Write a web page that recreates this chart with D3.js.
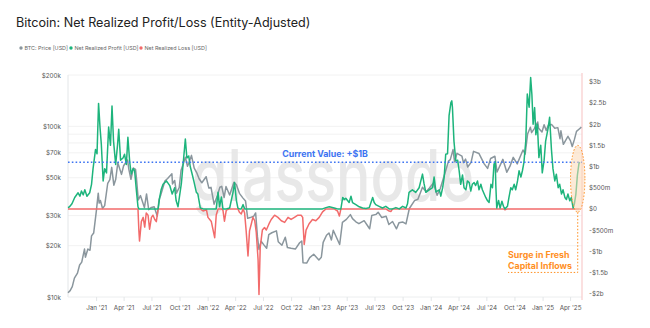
<!DOCTYPE html>
<html><head><meta charset="utf-8">
<script src="https://cdn.jsdelivr.net/npm/d3@7"></script>
<style>
html,body{margin:0;padding:0;background:#fff;}
svg{display:block;font-family:Inter,"Noto Sans",sans-serif;}
</style></head>
<body><svg id="c" width="650" height="328"></svg>
<script>
// ---------------- DATA ----------------
const priceDates = ["2020-10-01","2020-10-08","2020-10-15","2020-10-22","2020-11-01","2020-11-08","2020-11-15","2020-11-24","2020-11-27","2020-12-05","2020-12-12","2020-12-17","2020-12-24","2021-01-02","2021-01-08","2021-01-11","2021-01-15","2021-01-22","2021-01-29","2021-02-08","2021-02-15","2021-02-21","2021-02-28","2021-03-06","2021-03-13","2021-03-25","2021-04-01","2021-04-14","2021-04-18","2021-04-25","2021-05-03","2021-05-10","2021-05-13","2021-05-19","2021-05-26","2021-06-01","2021-06-08","2021-06-15","2021-06-22","2021-07-01","2021-07-10","2021-07-20","2021-07-26","2021-08-01","2021-08-14","2021-08-23","2021-09-06","2021-09-08","2021-09-15","2021-09-21","2021-09-30","2021-10-06","2021-10-15","2021-10-20","2021-10-27","2021-11-01","2021-11-09","2021-11-18","2021-11-26","2021-12-04","2021-12-13","2021-12-27","2022-01-05","2022-01-12","2022-01-22","2022-01-31","2022-02-10","2022-02-16","2022-02-24","2022-03-02","2022-03-14","2022-03-28","2022-04-05","2022-04-15","2022-04-26","2022-05-05","2022-05-12","2022-05-20","2022-06-01","2022-06-07","2022-06-13","2022-06-18","2022-06-25","2022-07-04","2022-07-13","2022-07-20","2022-07-30","2022-08-14","2022-08-20","2022-09-01","2022-09-12","2022-09-19","2022-10-01","2022-10-15","2022-10-29","2022-11-05","2022-11-09","2022-11-21","2022-12-01","2022-12-14","2022-12-31","2023-01-08","2023-01-14","2023-01-25","2023-02-02","2023-02-10","2023-02-16","2023-03-09","2023-03-18","2023-03-31","2023-04-13","2023-04-20","2023-05-01","2023-05-11","2023-05-28","2023-06-10","2023-06-15","2023-06-22","2023-07-06","2023-07-13","2023-07-25","2023-08-08","2023-08-17","2023-08-29","2023-09-11","2023-09-19","2023-10-02","2023-10-12","2023-10-23","2023-11-09","2023-11-20","2023-12-05","2023-12-17","2023-12-27","2024-01-10","2024-01-22","2024-02-01","2024-02-15","2024-02-28","2024-03-05","2024-03-14","2024-03-19","2024-03-27","2024-04-12","2024-04-17","2024-04-24","2024-05-01","2024-05-12","2024-05-20","2024-06-07","2024-06-24","2024-07-05","2024-07-15","2024-07-29","2024-08-05","2024-08-24","2024-09-06","2024-09-16","2024-09-27","2024-10-10","2024-10-21","2024-10-29","2024-11-05","2024-11-13","2024-11-22","2024-11-26","2024-12-05","2024-12-16","2024-12-19","2024-12-30","2025-01-06","2025-01-13","2025-01-20","2025-01-31","2025-02-10","2025-02-20","2025-02-27","2025-03-02","2025-03-10","2025-03-25","2025-04-02","2025-04-08","2025-04-15","2025-04-22","2025-05-01","2025-05-08"];
const priceValues = [10600,10900,11500,12900,13800,15400,16000,19100,17100,19100,18800,22800,23700,32200,40600,35500,36800,33000,34300,46400,48700,57500,45200,48800,61200,52300,58800,63500,56200,49000,57000,56000,49700,37000,39300,36500,33400,40200,32500,33500,33800,29800,37300,39800,47800,49500,52700,46000,48200,40600,43800,55300,61600,66000,58400,61300,67600,56900,53600,49300,46700,50700,43500,43900,35000,38500,44000,44500,38300,44400,39600,47100,45500,40500,38100,36500,28900,29200,29800,31100,22500,19000,21200,20200,19300,23200,23800,24400,21100,20100,22400,19500,19300,19100,20800,21300,15900,15800,17000,17800,16500,17100,20900,23000,23700,21600,24600,20300,27400,28500,30400,28800,27600,26900,28000,25900,25100,30000,30500,31400,29200,29700,26600,27700,25100,27200,27500,26800,33000,36700,37400,44000,41400,43400,46600,39500,43100,52000,62500,63800,73100,62000,69500,67000,61300,64300,57800,61500,71400,69300,60300,56700,64800,66800,54000,64100,53900,58200,65800,60300,67300,72700,68700,90200,98900,91900,97000,106100,97400,92600,102200,94500,102000,102400,97400,98300,84700,94200,78500,87500,82500,76300,83600,93500,96500,99000];

// Net realized profit/loss (entity-adjusted), USD billions
const nrplDates = ["2020-10-01","2020-10-06","2020-10-14","2020-10-23","2020-11-03","2020-11-09","2020-11-14","2020-11-20","2020-11-25","2020-12-02","2020-12-11","2020-12-17","2020-12-22","2020-12-30","2021-01-04","2021-01-09","2021-01-14","2021-01-18","2021-01-24","2021-01-29","2021-02-04","2021-02-11","2021-02-17","2021-02-22","2021-02-27","2021-03-06","2021-03-12","2021-03-16","2021-03-22","2021-03-30","2021-04-04","2021-04-10","2021-04-15","2021-04-21","2021-04-26","2021-05-02","2021-05-07","2021-05-13","2021-05-18","2021-05-21","2021-05-23","2021-05-29","2021-06-04","2021-06-09","2021-06-14","2021-06-20","2021-06-25","2021-07-01","2021-07-06","2021-07-12","2021-07-17","2021-07-23","2021-07-28","2021-08-02","2021-08-08","2021-08-19","2021-08-30","2021-09-07","2021-09-15","2021-09-20","2021-09-26","2021-10-07","2021-10-12","2021-10-20","2021-10-25","2021-10-31","2021-11-05","2021-11-12","2021-11-17","2021-11-25","2021-11-30","2021-12-08","2021-12-17","2021-12-28","2022-01-02","2022-01-13","2022-01-24","2022-01-29","2022-02-04","2022-02-09","2022-02-15","2022-02-20","2022-02-25","2022-03-03","2022-03-14","2022-03-25","2022-03-30","2022-04-05","2022-04-10","2022-04-15","2022-04-21","2022-04-27","2022-05-02","2022-05-07","2022-05-13","2022-05-18","2022-05-24","2022-05-29","2022-06-04","2022-06-09","2022-06-15","2022-06-18","2022-06-22","2022-06-29","2022-07-06","2022-07-12","2022-07-21","2022-07-28","2022-08-08","2022-08-19","2022-08-30","2022-09-10","2022-09-21","2022-10-01","2022-10-12","2022-10-23","2022-11-03","2022-11-08","2022-11-13","2022-11-19","2022-11-29","2022-12-10","2022-12-21","2023-01-01","2023-01-12","2023-01-23","2023-02-03","2023-02-19","2023-03-02","2023-03-08","2023-03-13","2023-03-19","2023-03-24","2023-03-29","2023-04-09","2023-04-15","2023-04-20","2023-05-01","2023-05-12","2023-05-23","2023-06-03","2023-06-14","2023-06-25","2023-06-30","2023-07-05","2023-07-16","2023-07-27","2023-08-07","2023-08-18","2023-08-24","2023-08-29","2023-09-09","2023-09-20","2023-10-01","2023-10-12","2023-10-17","2023-10-22","2023-11-02","2023-11-13","2023-11-24","2023-12-05","2023-12-10","2023-12-16","2023-12-27","2024-01-07","2024-01-12","2024-01-18","2024-01-29","2024-02-03","2024-02-09","2024-02-14","2024-02-19","2024-02-25","2024-03-01","2024-03-07","2024-03-10","2024-03-12","2024-03-17","2024-03-23","2024-03-29","2024-04-03","2024-04-08","2024-04-14","2024-04-19","2024-04-25","2024-04-30","2024-05-06","2024-05-11","2024-05-16","2024-05-22","2024-05-27","2024-06-02","2024-06-07","2024-06-13","2024-06-18","2024-06-24","2024-06-29","2024-07-05","2024-07-10","2024-07-16","2024-07-21","2024-07-26","2024-07-30","2024-08-01","2024-08-04","2024-08-10","2024-08-15","2024-08-21","2024-08-26","2024-08-31","2024-09-08","2024-09-13","2024-09-19","2024-09-24","2024-09-30","2024-10-05","2024-10-11","2024-10-16","2024-10-22","2024-10-27","2024-11-01","2024-11-07","2024-11-12","2024-11-18","2024-11-23","2024-11-27","2024-12-01","2024-12-06","2024-12-10","2024-12-15","2024-12-20","2024-12-26","2024-12-31","2025-01-06","2025-01-11","2025-01-19","2025-01-24","2025-01-30","2025-02-04","2025-02-10","2025-02-15","2025-02-21","2025-02-26","2025-03-04","2025-03-09","2025-03-15","2025-03-20","2025-03-25","2025-03-31","2025-04-05","2025-04-11","2025-04-15","2025-04-20","2025-04-25","2025-04-30","2025-05-03"];
const nrplValues = [0.03,0.05,0.12,0.27,0.38,0.3,0.42,0.33,0.45,0.3,0.38,0.58,0.95,1.4,1.3,2.49,1.9,1.53,0.66,0.95,0.85,1.93,1.5,2.43,1.6,1.05,1.5,1.88,1.15,1.2,1.29,1.05,1.69,1.1,0.82,0.95,0.9,0.42,0.05,-0.52,-0.76,-0.3,-0.2,-0.43,-0.1,-0.15,-0.48,-0.2,-0.15,-0.25,-0.3,0.0,0.27,0.46,0.58,0.66,0.55,0.35,0.5,0.19,0.05,0.6,1.0,1.65,1.2,1.25,1.0,0.8,0.65,0.39,0.35,0.02,-0.05,-0.02,-0.2,-0.3,-0.68,-0.15,0.39,0.05,0.28,-0.03,-0.29,-0.03,0.02,0.39,0.62,0.2,0.02,-0.08,-0.12,0.1,-0.1,-0.52,-1.11,-0.52,-0.35,-0.2,-0.28,-0.55,-1.2,-2.02,-0.91,-0.5,-0.44,-0.5,-0.35,-0.25,-0.15,-0.2,-0.28,-0.32,-0.2,-0.25,-0.2,-0.15,-0.15,-0.2,-0.84,-0.5,-0.35,-0.25,-0.28,-0.2,-0.07,0.03,0.05,0.02,-0.05,-0.17,0.0,0.27,0.22,0.25,0.15,0.3,0.15,0.1,0.05,0.02,0.01,0.03,0.27,0.15,0.1,0.06,0.02,0.06,-0.05,-0.06,0.0,0.03,0.0,0.06,0.02,0.12,0.39,0.45,0.39,0.5,0.82,0.6,0.39,0.45,0.5,0.75,0.4,0.45,0.3,0.5,0.75,1.29,1.3,2.2,2.51,2.55,2.4,1.6,1.13,1.15,0.9,0.58,0.8,0.5,0.45,0.66,0.62,0.42,0.58,0.62,0.55,0.66,0.45,0.58,0.45,0.35,0.27,0.19,0.15,0.58,0.5,1.05,1.12,0.55,0.02,0.2,0.02,0.18,0.06,-0.02,0.06,0.27,0.5,0.45,0.58,0.45,0.66,0.9,0.75,0.9,1.1,1.6,2.71,2.4,3.1,2.7,2.0,2.39,1.75,2.0,1.21,1.5,0.85,1.15,1.6,1.9,2.16,1.4,0.95,0.66,0.82,0.5,0.58,0.35,0.45,0.27,0.22,0.35,0.19,0.27,0.02,0.12,0.35,0.8,1.07,1.1];

const currentValue = 1.1; // billions
const leftTicks = [200000,100000,70000,50000,30000,20000,10000];
const leftTickLabels = ["$200k","$100k","$70k","$50k","$30k","$20k","$10k"];
const leftGrid = [200000,100000,90000,80000,70000,50000,30000,20000];
const rightTicks = [3,2.5,2,1.5,1,0.5,0,-0.5,-1,-1.5,-2];
const rightTickLabels = ["$3b","$2.5b","$2b","$1.5b","$1b","$500m","$0","-$500m","-$1b","-$1.5b","-$2b"];
const xTickDates = ["2021-01-01","2021-04-01","2021-07-01","2021-10-01","2022-01-01","2022-04-01","2022-07-01","2022-10-01","2023-01-01","2023-04-01","2023-07-01","2023-10-01","2024-01-01","2024-04-01","2024-07-01","2024-10-01","2025-01-01","2025-04-01"];
const legendLabels = ["BTC: Price [USD]","Net Realized Profit [USD]","Net Realized Loss [USD]"];

// ---------------- CHART ----------------
const parse = d3.utcParse("%Y-%m-%d");
const C = {gray:"#8a969d", green:"#1db47c", red:"#f26b6b", blue:"#3d74f2", orange:"#ff8f1f"};
const svg = d3.select("#c");
const L = 68, R = 582, T = 75, B = 297;

const x = d3.scaleUtc().domain([parse("2020-10-01"), parse("2025-05-10")]).range([L, R]);
const yL = d3.scaleLog().domain([10000, 200000]).range([B, T]);
const yR = d3.scaleLinear().domain([-2.08, 3.16]).range([B, T]);

const price = priceDates.map((d,i)=>({d:parse(d), v:priceValues[i]}));
const nrpl = nrplDates.map((d,i)=>({d:parse(d), v:nrplValues[i]}));

// title
svg.append("text").attr("x",16).attr("y",27).attr("font-size",12.6).attr("fill","#222")
  .attr("font-weight",400).text("Bitcoin: Net Realized Profit/Loss (Entity-Adjusted)");

// legend
const legColors = [C.gray, C.green, C.red];
const legX = [21, 71, 141];
legendLabels.forEach((t,i)=>{
  svg.append("circle").attr("cx",legX[i]).attr("cy",48).attr("r",1.7).attr("fill",legColors[i]);
  svg.append("text").attr("x",legX[i]+3.5).attr("y",50).attr("font-size",5.4).attr("fill","#666").text(t);
});

// grid
svg.append("g").selectAll("line").data(leftGrid).join("line")
  .attr("x1",L).attr("x2",R).attr("y1",d=>yL(d)).attr("y2",d=>yL(d))
  .attr("stroke","#efefef").attr("stroke-width",0.8);

// watermark
svg.append("text").attr("x",(L+R)/2+8).attr("y",201).attr("text-anchor","middle")
  .attr("font-size",72).attr("font-weight",500).attr("fill","#e6e6e6").attr("opacity",0.9)
  .attr("textLength",282).attr("lengthAdjust","spacingAndGlyphs").text("glassnode");

// axis frame
svg.append("line").attr("x1",L).attr("x2",L).attr("y1",T).attr("y2",B).attr("stroke","#e3e6e8").attr("stroke-width",1);
svg.append("line").attr("x1",L).attr("x2",R).attr("y1",B).attr("y2",B).attr("stroke","#eceeef").attr("stroke-width",1);
svg.append("line").attr("x1",R).attr("x2",R).attr("y1",T-2).attr("y2",B+3).attr("stroke","#f9cccc").attr("stroke-width",1.2);

// axes
const axL = d3.axisLeft(yL).tickValues(leftTicks).tickFormat((d,i)=>leftTickLabels[i]).tickSize(0).tickPadding(7);
const gL = svg.append("g").attr("transform",`translate(${L},0)`).call(axL);
const axR = d3.axisRight(yR).tickValues(rightTicks).tickFormat((d,i)=>rightTickLabels[i]).tickSize(0).tickPadding(7);
const gR = svg.append("g").attr("transform",`translate(${R},0)`).call(axR);
const axB = d3.axisBottom(x).tickValues(xTickDates.map(parse)).tickFormat(d3.utcFormat("%b '%y")).tickSize(4).tickPadding(5);
const gB = svg.append("g").attr("transform",`translate(0,${B})`).call(axB);
[gL,gR,gB].forEach(g=>{
  g.select(".domain").remove();
  g.selectAll("text").attr("font-size",6.3).attr("fill","#555").attr("font-family","Inter,'Noto Sans',sans-serif");
  g.selectAll("line").attr("stroke","#e3e6e8");
});

// lines
const lineP = d3.line().x(d=>x(d.d)).y(d=>yL(d.v));
svg.append("path").datum(price).attr("d",lineP).attr("fill","none").attr("stroke",C.gray).attr("stroke-width",1.5).attr("stroke-linejoin","round");

const lineR = d3.line().x(d=>x(d.d)).y(d=>yR(d.v));
svg.append("path").datum(nrpl.map(p=>({d:p.d, v:Math.min(0,p.v)}))).attr("d",lineR)
  .attr("fill","none").attr("stroke",C.red).attr("stroke-width",1.5).attr("stroke-linejoin","round");
svg.append("path").datum(nrpl.map(p=>({d:p.d, v:Math.max(0,p.v)}))).attr("d",lineR)
  .attr("fill","none").attr("stroke",C.green).attr("stroke-width",1.5).attr("stroke-linejoin","round");

// current value
svg.append("line").attr("x1",L).attr("x2",R).attr("y1",yR(currentValue)).attr("y2",yR(currentValue))
  .attr("stroke",C.blue).attr("stroke-width",1.3).attr("stroke-dasharray","1.6,2.2");
svg.append("text").attr("x",325).attr("y",yR(currentValue)-5.5).attr("text-anchor","middle")
  .attr("font-size",8.8).attr("font-weight",700).attr("fill",C.blue).text("Current Value: +$1B");

// annotation
const ex = x(parse("2025-04-26"));
const eTop = yR(1.5), eBot = yR(-0.08);
svg.append("ellipse").attr("cx",ex).attr("cy",(eTop+eBot)/2).attr("rx",7.2).attr("ry",(eBot-eTop)/2)
  .attr("fill","#fbd9b6").attr("fill-opacity",0.55).attr("stroke",C.orange).attr("stroke-width",1)
  .attr("stroke-dasharray","1.5,1.8");
const ay = yR(-1.5);
svg.append("path").attr("d",`M${ex},${eBot} V${ay} H${x(parse("2024-09-10"))}`)
  .attr("fill","none").attr("stroke",C.orange).attr("stroke-width",1).attr("stroke-dasharray","1.5,1.8");
svg.append("text").attr("x",x(parse("2024-09-10"))).attr("y",ay-14).attr("font-size",8.8).attr("font-weight",700)
  .attr("fill",C.orange).text("Surge in Fresh");
svg.append("text").attr("x",x(parse("2024-09-10"))).attr("y",ay-3).attr("font-size",8.8).attr("font-weight",700)
  .attr("fill",C.orange).text("Capital Inflows");
</script></body></html>
